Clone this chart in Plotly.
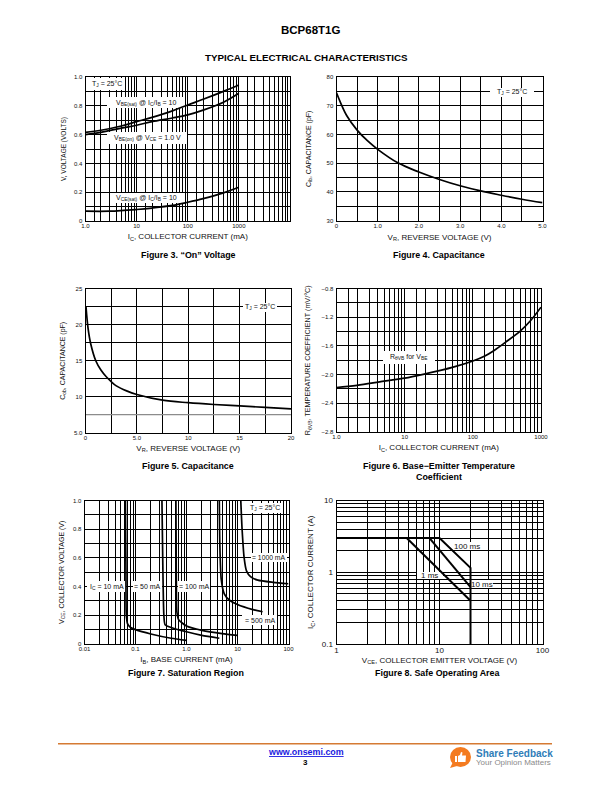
import plotly.graph_objects as go

W, H = 612, 792
FONT = "Liberation Sans"

# ---------- data ----------
fig3_ic = [1, 2, 5, 10, 20, 50, 100, 200, 500, 1000]
fig3_vbe_sat = [0.615, 0.63, 0.66, 0.69, 0.72, 0.765, 0.806, 0.845, 0.90, 0.944]
fig3_vbe_on = [0.60, 0.615, 0.645, 0.665, 0.69, 0.715, 0.737, 0.77, 0.825, 0.887]
fig3_vce_ic = [1, 3, 10, 20, 50, 100, 200, 500, 1000]
fig3_vce_sat = [0.068, 0.068, 0.08, 0.09, 0.108, 0.13, 0.155, 0.195, 0.234]

fig4_v = [0, 0.1, 0.25, 0.5, 0.75, 1.0, 1.5, 2.0, 2.5, 3.0, 3.5, 4.0, 4.5, 5.0]
fig4_c = [74.5, 71, 66.5, 61.5, 57.8, 54.8, 50, 46.9, 44.3, 42.1, 40.3, 38.8, 37.4, 36.2]

fig5_v = [0.05, 0.25, 0.5, 1, 1.5, 2, 2.5, 3, 4, 5, 7.5, 10, 12.5, 15, 17.5, 20]
fig5_c = [22.5, 19.5, 17.4, 15, 13.7, 12.8, 12.1, 11.5, 10.8, 10.3, 9.5, 9.15, 8.9, 8.7, 8.5, 8.3]
fig5_ref_v = [0, 20]
fig5_ref_c = [7.5, 7.5]

fig6_ic = [1, 2, 5, 10, 20, 50, 100, 150, 200, 300, 500, 700, 1000]
fig6_coef = [-2.18, -2.15, -2.09, -2.05, -1.99, -1.90, -1.81, -1.74, -1.67, -1.55, -1.39, -1.25, -1.06]

fig7_10_ib = [0.0635, 0.065, 0.066, 0.07, 0.08, 0.1, 0.2, 0.5, 1.0]
fig7_10_v = [1.0, 0.5, 0.2, 0.14, 0.115, 0.10, 0.07, 0.04, 0.025]
fig7_50_ib = [0.33, 0.345, 0.36, 0.38, 0.5, 1, 2, 4.4]
fig7_50_v = [1.0, 0.5, 0.2, 0.135, 0.115, 0.085, 0.06, 0.04]
fig7_100_ib = [0.62, 0.63, 0.65, 0.7, 1, 2, 5, 10]
fig7_100_v = [1.0, 0.5, 0.22, 0.17, 0.125, 0.095, 0.072, 0.06]
fig7_500_ib = [4.4, 4.5, 4.8, 5.5, 7, 10, 20, 31]
fig7_500_v = [1.0, 0.7, 0.45, 0.35, 0.305, 0.275, 0.24, 0.225]
fig7_1000_ib = [11.6, 12.3, 13.5, 15, 18, 25, 50, 100]
fig7_1000_v = [1.0, 0.8, 0.6, 0.51, 0.47, 0.445, 0.43, 0.42]

fig8_limit_v = [1, 10, 20, 20]
fig8_limit_i = [3, 3, 1.15, 0.1]
fig8_10ms_v = [8, 20]
fig8_10ms_i = [3, 0.62]
fig8_1ms_v = [4.8, 20]
fig8_1ms_i = [3, 0.4]

MANT = [1, 2, 3, 4, 5, 6, 7, 8, 9]
MANT15 = [1, 1.5, 2, 3, 4, 5, 6, 7, 8, 9]


def log_grid(decades, mant=MANT):
    vals = []
    for d in decades:
        for m in mant:
            vals.append(m * 10 ** d)
    vals.append(10 ** (decades[-1] + 1))
    return vals


def linear_grid(start, step, count):
    return [round(start + step * i, 6) for i in range(count)]


# page pixel boxes of plot areas: x0, y0, x1, y1
BOX = {
    1: (85.5, 77, 290, 221),
    2: (336.5, 77, 542.5, 220.5),
    3: (85.5, 289, 291, 432.5),
    4: (336.5, 288.5, 541, 432),
    5: (84.5, 500.5, 288.5, 644),
    6: (336.5, 500.5, 542.5, 644),
}
# axis ranges in axis units, and whether the axis is logarithmic
XR = {1: (0, 4, True), 2: (0, 5, False), 3: (0, 20, False), 4: (0, 3, True), 5: (-2, 2, True), 6: (0, 2, True)}
YR = {1: (0, 1, False), 2: (30, 80, False), 3: (5, 25, False), 4: (-2.8, -0.8, False), 5: (0, 1, False), 6: (-1, 1, True)}

fig = go.Figure()
BLACK = "#000000"
INK = "#111111"
LW = 1.7


def add(n, x, y, color=BLACK, width=LW, smoothing=1.0):
    s = "" if n == 1 else str(n)
    fig.add_trace(go.Scatter(x=x, y=y, mode="lines", xaxis="x" + s, yaxis="y" + s,
                             line=dict(color=color, width=width, shape="spline" if len(x) > 4 else "linear",
                                       smoothing=smoothing),
                             showlegend=False, hoverinfo="skip"))


add(1, fig3_ic, fig3_vbe_sat)
add(1, fig3_ic, fig3_vbe_on)
add(1, fig3_vce_ic, fig3_vce_sat)
add(2, fig4_v, fig4_c)
add(3, fig5_ref_v, fig5_ref_c, "#8c8c8c", 1.3)
add(3, fig5_v, fig5_c)
add(4, fig6_ic, fig6_coef)
for xs, ys in [(fig7_10_ib, fig7_10_v), (fig7_50_ib, fig7_50_v), (fig7_100_ib, fig7_100_v),
               (fig7_500_ib, fig7_500_v), (fig7_1000_ib, fig7_1000_v)]:
    add(5, xs, ys, smoothing=0.6)
add(6, fig8_limit_v, fig8_limit_i, width=2.0)
add(6, fig8_10ms_v, fig8_10ms_i, width=2.0)
add(6, fig8_1ms_v, fig8_1ms_i, width=2.0)


def axis_dict(n_range, grid, labels, size, tick_standoff):
    major = [v for v in grid if v in labels]
    others = [v for v in grid if v not in labels]
    return dict(showgrid=True, gridcolor=BLACK, gridwidth=1, showline=True, linecolor=BLACK, linewidth=1,
                mirror=True, zeroline=False, ticks="", tickmode="array", tickangle=0,
                tickvals=major, ticktext=[labels[v] for v in major],
                minor=dict(tickmode="array", tickvals=others, showgrid=True, gridcolor=BLACK, gridwidth=1, ticks=""),
                tickfont=dict(family=FONT, size=size, color=INK), automargin=False, ticklabelstandoff=tick_standoff,
                range=list(n_range[:2]), type="log" if n_range[2] else "linear")


def set_axes(n, xgrid, xlabels, ygrid, ylabels, xtitle, ytitle, xstand, ystand, xts=8, yts=7, tfs=6, xtick=-1):
    s = "" if n == 1 else str(n)
    x0, y0, x1, y1 = BOX[n]
    xa = axis_dict(XR[n], xgrid, xlabels, tfs, xtick)
    xa.update(domain=[x0 / W, x1 / W], anchor="y" + s,
              title=dict(text=xtitle, standoff=xstand, font=dict(family=FONT, size=xts, color=INK)))
    ya = axis_dict(YR[n], ygrid, ylabels, tfs, 1)
    ya.update(domain=[1 - y1 / H, 1 - y0 / H], anchor="x" + s,
              title=dict(text=ytitle, standoff=ystand, font=dict(family=FONT, size=yts, color=INK)))
    fig.update_layout({"xaxis" + s: xa, "yaxis" + s: ya})


VOLT_GRID = linear_grid(0, 0.1, 11)
VOLT_LABELS = {0: "0", 0.2: "0.2", 0.4: "0.4", 0.6: "0.6", 0.8: "0.8", 1.0: "1.0"}

# Figure 3
set_axes(1, log_grid([0, 1, 2, 3], MANT15), {1: "1.0", 10: "10", 100: "100", 1000: "1000"},
         VOLT_GRID, VOLT_LABELS,
         "I<sub>C</sub>, COLLECTOR CURRENT (mA)", "V, VOLTAGE (VOLTS)", 5, 6.5, yts=6.5)

# Figure 4
set_axes(2, linear_grid(0, 0.5, 11), {0: "0", 1.0: "1.0", 2.0: "2.0", 3.0: "3.0", 4.0: "4.0", 5.0: "5.0"},
         linear_grid(30, 5, 11), {30: "30", 40: "40", 50: "50", 60: "60", 70: "70", 80: "80"},
         "V<sub>R</sub>, REVERSE VOLTAGE (V)", "C<sub>ib</sub>, CAPACITANCE (pF)", 6, 14)

# Figure 5
set_axes(3, linear_grid(0, 2.5, 9), {0: "0", 5.0: "5.0", 10: "10", 15: "15", 20: "20"},
         linear_grid(5, 2.5, 9), {5: "5.0", 10: "10", 15: "15", 20: "20", 25: "25"},
         "V<sub>R</sub>, REVERSE VOLTAGE (V)", "C<sub>ob</sub>, CAPACITANCE (pF)", 5, 7)

# Figure 6
set_axes(4, log_grid([0, 1, 2], MANT15), {1: "1.0", 10: "10", 100: "100", 1000: "1000"},
         linear_grid(-2.8, 0.2, 11),
         {-2.8: "\u22122.8", -2.4: "\u22122.4", -2.0: "\u22122.0", -1.6: "\u22121.6", -1.2: "\u22121.2", -0.8: "\u22120.8"},
         "I<sub>C</sub>, COLLECTOR CURRENT (mA)", "R<sub>\u03b8VB</sub>, TEMPERATURE COEFFICIENT (mV/\u00b0C)", 5, 9, yts=7.2)

# Figure 7
set_axes(5, log_grid([-2, -1, 0, 1]), {0.01: "0.01", 0.1: "0.1", 1: "1.0", 10: "10", 100: "100"},
         VOLT_GRID, VOLT_LABELS,
         "I<sub>B</sub>, BASE CURRENT (mA)", "V<sub>CE</sub>, COLLECTOR VOLTAGE (V)", 5, 7)

# Figure 8
set_axes(6, log_grid([0, 1]), {1: "1", 10: "10", 100: "100"},
         log_grid([-1, 0]), {0.1: "0.1", 1: "1", 10: "10"},
         "V<sub>CE</sub>, COLLECTOR EMITTER VOLTAGE (V)", "I<sub>C</sub>, COLLECTOR CURRENT (A)", 3, 6, yts=8, tfs=8, xtick=-2)

# ---------- white label masks + labels ----------
TJ = "T<sub>J</sub> = 25\u00b0C"
LABELS = [
    (1, 88, 78, 125, 90, TJ, 7),
    (1, 107, 97, 185, 108, "V<sub>BE(sat)</sub> @ I<sub>C</sub>/I<sub>B</sub> = 10", 7),
    (1, 107, 132, 187, 144, "V<sub>BE(on)</sub> @ V<sub>CE</sub> = 1.0 V", 7),
    (1, 110, 193, 183, 203, "V<sub>CE(sat)</sub> @ I<sub>C</sub>/I<sub>B</sub> = 10", 7),
    (2, 490, 88, 534, 97, TJ, 7),
    (3, 243, 303, 277, 312, TJ, 7),
    (4, 383, 351, 435, 364, "R<sub>\u03b8VB</sub> for V<sub>BE</sub>", 7),
    (5, 247, 503, 282, 513, TJ, 7),
    (5, 87, 581, 126, 592, "I<sub>C</sub> = 10 mA", 7),
    (5, 133, 581, 162, 592, "= 50 mA", 7),
    (5, 178, 581, 210, 592, "= 100 mA", 7),
    (5, 242, 615, 277, 625, "= 500 mA", 7),
    (5, 251, 553, 287, 562, "= 1000 mA", 6.8),
    (6, 453, 542, 482, 550, "100 ms", 8),
    (6, 470, 580, 493, 588, "10 ms", 8),
    (6, 417, 572, 443, 579, "1 ms", 8),
]

shapes, annots = [], []


def px(x, y):
    return x / W, 1 - y / H


def text(x, y, s, size, bold=False, color="#000000", xanchor="center"):
    annots.append(dict(xref="paper", yref="paper", x=x / W, y=1 - y / H, text=("<b>%s</b>" % s) if bold else s,
                       showarrow=False, xanchor=xanchor, yanchor="middle",
                       font=dict(family=FONT, size=size, color=color)))


def to_data(frac, r):
    v = r[0] + frac * (r[1] - r[0])
    return 10 ** v if r[2] else v


for n, x0, y0, x1, y1, s, size in LABELS:
    sfx = "" if n == 1 else str(n)
    bx0, by0, bx1, by1 = BOX[n]
    shapes.append(dict(type="rect", layer="between", xref="x" + sfx, yref="y" + sfx,
                       x0=to_data((x0 - bx0) / (bx1 - bx0), XR[n]), x1=to_data((x1 - bx0) / (bx1 - bx0), XR[n]),
                       y0=to_data((by1 - y1) / (by1 - by0), YR[n]), y1=to_data((by1 - y0) / (by1 - by0), YR[n]),
                       fillcolor="white", line=dict(width=0)))
    text((x0 + x1) / 2, (y0 + y1) / 2, s, size, color=INK)

# ---------- page text ----------
CAP = 8.9
text(310, 30, "BCP68T1G", 11.5, bold=True)
text(306, 57.5, "TYPICAL ELECTRICAL CHARACTERISTICS", 9.8, bold=True)
text(188, 255, "Figure 3. \u201cOn\u201d Voltage", CAP, bold=True)
text(439, 255, "Figure 4. Capacitance", CAP, bold=True)
text(188, 465.7, "Figure 5. Capacitance", CAP, bold=True)
text(439, 465.7, "Figure 6. Base\u2212Emitter Temperature", CAP, bold=True)
text(439, 476.7, "Coefficient", CAP, bold=True)
text(185.7, 673, "Figure 7. Saturation Region", CAP, bold=True)
text(437, 673, "Figure 8. Safe Operating Area", CAP, bold=True)

# ---------- footer ----------
x0, y0 = px(58, 743.7)
x1, _ = px(552, 743.7)
shapes.append(dict(type="line", xref="paper", yref="paper", x0=x0, x1=x1, y0=y0, y1=y0,
                   line=dict(color="#D57A33", width=1.5)))
text(305.5, 752, "<u>www.onsemi.com</u>", 8.9, bold=True, color="#1a1ae0")
text(305.5, 762, "3", 8, bold=True)
text(473.5, 753.3, "Share Feedback", 10, bold=True, color="#2f7db8", xanchor="left")
text(473.5, 762.7, "Your Opinion Matters", 8, color="#8a8a8a", xanchor="left")


def path(points):
    return "M " + " L ".join("%.5f,%.5f" % px(a, b) for a, b in points) + " Z"


a0, b0 = px(450, 747)
a1, b1 = px(471, 767)
ORANGE = "#F47B20"
shapes.append(dict(type="circle", xref="paper", yref="paper", x0=a0, x1=a1, y0=b1, y1=b0,
                   fillcolor=ORANGE, line=dict(width=0)))
shapes.append(dict(type="path", xref="paper", yref="paper", path=path([(450, 768), (453, 762), (457, 766)]),
                   fillcolor=ORANGE, line=dict(width=0)))
shapes.append(dict(type="path", xref="paper", yref="paper",
                   path=path([(455, 756), (457, 756), (457, 762), (455, 762)]), fillcolor="white", line=dict(width=0)))
shapes.append(dict(type="path", xref="paper", yref="paper",
                   path=path([(458, 756), (460, 755), (461, 752), (462.5, 752.5), (462, 755.5),
                              (466, 755.5), (465.5, 762), (458, 762)]),
                   fillcolor="white", line=dict(width=0)))

fig.update_layout(width=W, height=H, autosize=False, margin=dict(l=0, r=0, t=0, b=0),
                  paper_bgcolor="white", plot_bgcolor="white", showlegend=False,
                  shapes=shapes, annotations=annots, hovermode=False,
                  font=dict(family=FONT))

fig.write_html("out.html", config={"displayModeBar": False},
               post_script="document.body.style.margin='0';document.body.style.overflow='hidden';")
